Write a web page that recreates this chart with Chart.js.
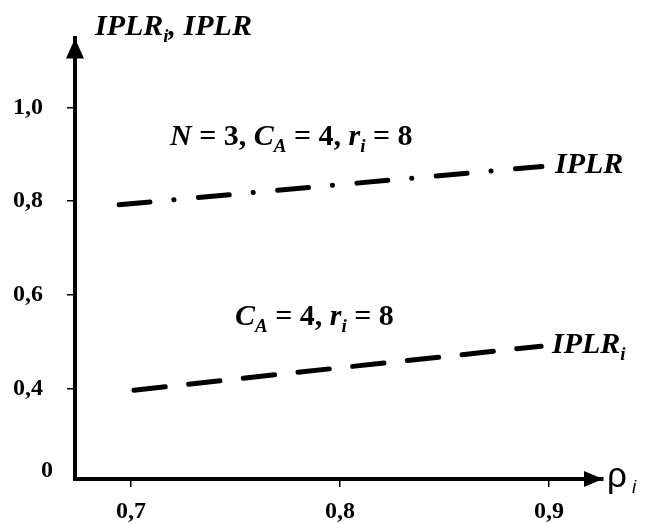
<!DOCTYPE html>
<html>
<head>
<meta charset="utf-8">
<script src="https://cdn.jsdelivr.net/npm/chart.js@4.4.1/dist/chart.umd.min.js"></script>
<style>
  html, body { margin: 0; padding: 0; background: #fff; }
  #wrap { width: 648px; height: 524px; }
</style>
</head>
<body>
<div id="wrap"><canvas id="c" width="648" height="524"></canvas></div>
<script>
// ---- data ----
const iplrRho   = [0.6943, 0.8, 0.8966];
const iplrVals  = [0.792, 0.835, 0.874];
const iplriRho  = [0.7014, 0.8, 0.8962];
const iplriVals = [0.396, 0.444, 0.490];

const xTickValues = [0.7, 0.8, 0.9];
const xTickLabels = ['0,7', '0,8', '0,9'];
const yTickValues = [0.4, 0.6, 0.8, 1.0];
const yTickLabels = ['0,4', '0,6', '0,8', '1,0'];
const yBreakLabel = '0';   // label at the (broken) bottom of the y axis

// axis ranges (the y axis is broken: its bottom is labelled "0")
const X_MIN = 0.6732, X_MAX = 0.9258;
const Y_MIN = 0.2063, Y_MAX = 1.1474;

const SERIF = '"Liberation Serif", "Times New Roman", serif';

function drawRich(ctx, x, y, segs, base) {
  let cx = x;
  segs.forEach(s => {
    const size = s.sub ? Math.round(base * 0.64) : base;
    const weight = s.light ? 'normal' : 'bold';
    ctx.font = (s.it ? 'italic ' : '') + weight + ' ' + size + 'px ' + SERIF;
    ctx.textAlign = 'left';
    ctx.textBaseline = 'alphabetic';
    ctx.fillText(s.t, cx, y + (s.sub ? Math.round(base * 0.22) : 0));
    cx += ctx.measureText(s.t).width;
  });
}

const decor = {
  id: 'decor',
  afterDraw(chart) {
    const ctx = chart.ctx;
    const xs = chart.scales.x, ys = chart.scales.y;
    const ax = xs.left, ay = ys.bottom;
    ctx.save();
    ctx.fillStyle = '#000';
    // corner
    ctx.fillRect(ax - 2, ay - 2, 4, 4);
    // y arrow
    const ty = ys.top;
    ctx.beginPath();
    ctx.moveTo(ax, ty);
    ctx.lineTo(ax - 9, ty + 20);
    ctx.lineTo(ax + 9, ty + 20);
    ctx.closePath();
    ctx.fill();
    // x arrow
    const tx = xs.right;
    ctx.beginPath();
    ctx.moveTo(tx, ay);
    ctx.lineTo(tx - 19, ay - 8);
    ctx.lineTo(tx - 19, ay + 8);
    ctx.closePath();
    ctx.fill();
    // rho_i
    ctx.font = '35px "Liberation Sans", Arial, sans-serif';
    ctx.textAlign = 'left';
    ctx.textBaseline = 'alphabetic';
    ctx.fillText('ρ', tx + 4, ay + 8);
    ctx.font = 'italic 19px "Liberation Sans", Arial, sans-serif';
    ctx.fillText('i', tx + 29, ay + 14);
    // broken-axis zero label
    ctx.font = 'bold 24px ' + SERIF;
    ctx.textAlign = 'right';
    ctx.fillText(yBreakLabel, ax - 22, ay - 2);
    // title
    drawRich(ctx, 95, 35, [{t:'IPLR', it:true}, {t:'i', it:true, sub:true}, {t:', IPLR', it:true}], 30);
    // annotations
    drawRich(ctx, 170, 145, [
      {t:'N', it:true}, {t:' = 3, '}, {t:'C', it:true}, {t:'A', it:true, sub:true},
      {t:' = 4, '}, {t:'r', it:true}, {t:'i', it:true, sub:true}, {t:' = 8'}], 30);
    drawRich(ctx, 235, 325, [
      {t:'C', it:true}, {t:'A', it:true, sub:true},
      {t:' = 4, '}, {t:'r', it:true}, {t:'i', it:true, sub:true}, {t:' = 8'}], 30);
    drawRich(ctx, 555, 173, [{t:'IPLR', it:true}], 30);
    drawRich(ctx, 552, 353, [{t:'IPLR', it:true}, {t:'i', it:true, sub:true}], 30);
    ctx.restore();
  }
};

const toXY = (xs, ys) => xs.map((x, i) => ({x: x, y: ys[i]}));

new Chart(document.getElementById('c'), {
  type: 'line',
  data: {
    datasets: [
      {
        label: 'IPLR',
        data: toXY(iplrRho, iplrVals),
        borderColor: '#000',
        borderWidth: 5,
        borderCapStyle: 'round',
        borderDash: [31, 24, 0.1, 24.5],
        pointRadius: 0,
        fill: false,
        tension: 0
      },
      {
        label: 'IPLRi',
        data: toXY(iplriRho, iplriVals),
        borderColor: '#000',
        borderWidth: 5,
        borderCapStyle: 'round',
        borderDash: [31.5, 23.5],
        pointRadius: 0,
        fill: false,
        tension: 0
      }
    ]
  },
  options: {
    responsive: false,
    animation: false,
    devicePixelRatio: 1,
    layout: { padding: { left: 0, top: 32, right: 45, bottom: 0 } },
    plugins: { legend: { display: false }, tooltip: { enabled: false } },
    scales: {
      x: {
        type: 'linear',
        min: X_MIN, max: X_MAX,
        afterFit: s => { s.height = 45; },
        afterBuildTicks: s => { s.ticks = xTickValues.map(v => ({value: v})); },
        border: { display: true, width: 4, color: '#000' },
        grid: { drawOnChartArea: false, drawTicks: true, tickLength: 8, lineWidth: 1.5, color: '#000' },
        ticks: {
          padding: 10,
          color: '#000',
          font: { family: SERIF, size: 24, weight: 'bold' },
          callback: (v) => { const i = xTickValues.findIndex(t => Math.abs(t - v) < 1e-6); return i >= 0 ? xTickLabels[i] : ''; }
        }
      },
      y: {
        type: 'linear',
        min: Y_MIN, max: Y_MAX,
        afterFit: s => { s.width = 75; },
        afterBuildTicks: s => { s.ticks = yTickValues.map(v => ({value: v})); },
        border: { display: true, width: 4, color: '#000' },
        grid: { drawOnChartArea: false, drawTicks: true, tickLength: 8, lineWidth: 1.5, color: '#000' },
        ticks: {
          padding: 24,
          color: '#000',
          font: { family: SERIF, size: 24, weight: 'bold' },
          callback: (v) => { const i = yTickValues.findIndex(t => Math.abs(t - v) < 1e-6); return i >= 0 ? yTickLabels[i] : ''; }
        }
      }
    }
  },
  plugins: [decor]
});
</script>
</body>
</html>
